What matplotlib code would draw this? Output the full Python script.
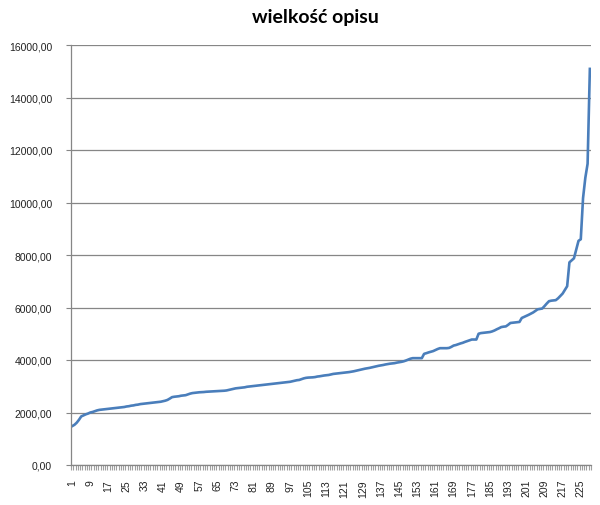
import numpy as np
import matplotlib
matplotlib.use("Agg")
import matplotlib.pyplot as plt
from matplotlib.ticker import FixedLocator, FuncFormatter

# Values (sorted, 229 entries)
values = [
    1480, 1530, 1610, 1720, 1850, 1890, 1930, 1960, 2000, 2020,
    2050, 2080, 2100, 2110, 2120, 2130, 2140, 2150, 2160, 2170,
    2180, 2190, 2200, 2210, 2230, 2240, 2260, 2270, 2290, 2300,
    2320, 2330, 2340, 2350, 2360, 2370, 2380, 2390, 2400, 2410,
    2430, 2450, 2480, 2530, 2585, 2600, 2610, 2620, 2640, 2650,
    2660, 2690, 2720, 2740, 2750, 2760, 2770, 2775, 2780, 2790,
    2795, 2800, 2805, 2810, 2815, 2820, 2825, 2830, 2840, 2860,
    2880, 2900, 2920, 2930, 2940, 2950, 2960, 2980, 2990, 3000,
    3010, 3020, 3030, 3040, 3050, 3060, 3070, 3080, 3090, 3100,
    3110, 3120, 3130, 3140, 3150, 3160, 3170, 3190, 3210, 3230,
    3240, 3270, 3300, 3320, 3330, 3335, 3340, 3350, 3370, 3380,
    3395, 3410, 3420, 3430, 3450, 3470, 3480, 3490, 3500, 3510,
    3520, 3530, 3540, 3555, 3570, 3590, 3610, 3630, 3650, 3670,
    3685, 3700, 3720, 3740, 3760, 3780, 3795, 3810, 3830, 3845,
    3860, 3870, 3880, 3900, 3915, 3930, 3950, 3980, 4015, 4050,
    4070, 4070, 4070, 4070, 4070, 4235, 4260, 4290, 4315, 4340,
    4380, 4420, 4450, 4450, 4450, 4450, 4460, 4500, 4550, 4570,
    4600, 4630, 4655, 4690, 4720, 4750, 4780, 4780, 4780, 5000,
    5025, 5035, 5045, 5055, 5065, 5090, 5125, 5170, 5210, 5255,
    5270, 5280, 5340, 5410, 5420, 5430, 5440, 5450, 5600, 5640,
    5680, 5720, 5765, 5810, 5870, 5930, 5945, 5960, 6050, 6150,
    6240, 6260, 6270, 6280, 6350, 6440, 6530, 6670, 6810, 7720,
    7800, 7875, 8200, 8540, 8600, 10170, 10940, 11475, 15090,
]
categories = list(range(1, len(values) + 1))
label_step = 8
y_ticks = [0, 2000, 4000, 6000, 8000, 10000, 12000, 14000, 16000]
title = "wielkość opisu"

grid_col = "#868686"
tick_font = "Liberation Sans"

fig = plt.figure(figsize=(6.0, 5.06), dpi=100)
ax = fig.add_axes([71 / 600, 1 - 466 / 506, 520 / 600, 420 / 506])

ax.plot(categories, values, color="#4a7ebb", linewidth=1.9, solid_joinstyle="round")

ax.set_xlim(0.5, len(values) + 0.5)
ax.set_ylim(0, 16000)

# y axis
ax.yaxis.set_major_locator(FixedLocator(y_ticks))
ax.yaxis.set_major_formatter(FuncFormatter(lambda v, p: f"{v:.2f}".replace(".", ",")))
ax.grid(axis="y", color=grid_col, linewidth=0.9)
ax.set_axisbelow(True)
ax.tick_params(axis="y", length=3.5, color=grid_col, labelsize=7.5, labelcolor="#222222", pad=10)

# x axis: labels every 8th category, tick marks between categories
ax.xaxis.set_major_locator(FixedLocator(categories[::label_step]))
ax.xaxis.set_major_formatter(FuncFormatter(lambda v, p: str(int(round(v)))))
ax.xaxis.set_minor_locator(FixedLocator(np.arange(0.5, len(values) + 1, 1)))
ax.tick_params(axis="x", which="major", length=0, labelsize=7.5, labelcolor="#222222",
               labelrotation=90, pad=10)
ax.tick_params(axis="x", which="minor", length=3.5, color="#a0a0a0", width=0.8)

for lab in ax.get_xticklabels() + ax.get_yticklabels():
    lab.set_family(tick_font)

for s in ["top", "right"]:
    ax.spines[s].set_visible(False)
for s in ["left", "bottom"]:
    ax.spines[s].set_color(grid_col)
    ax.spines[s].set_linewidth(0.9)

fig.text(315 / 600, 1 - 18 / 506, title, ha="center", va="center",
         fontsize=14, fontweight="bold", family="Lato")

fig.savefig("out.png", dpi=100, facecolor="white")
